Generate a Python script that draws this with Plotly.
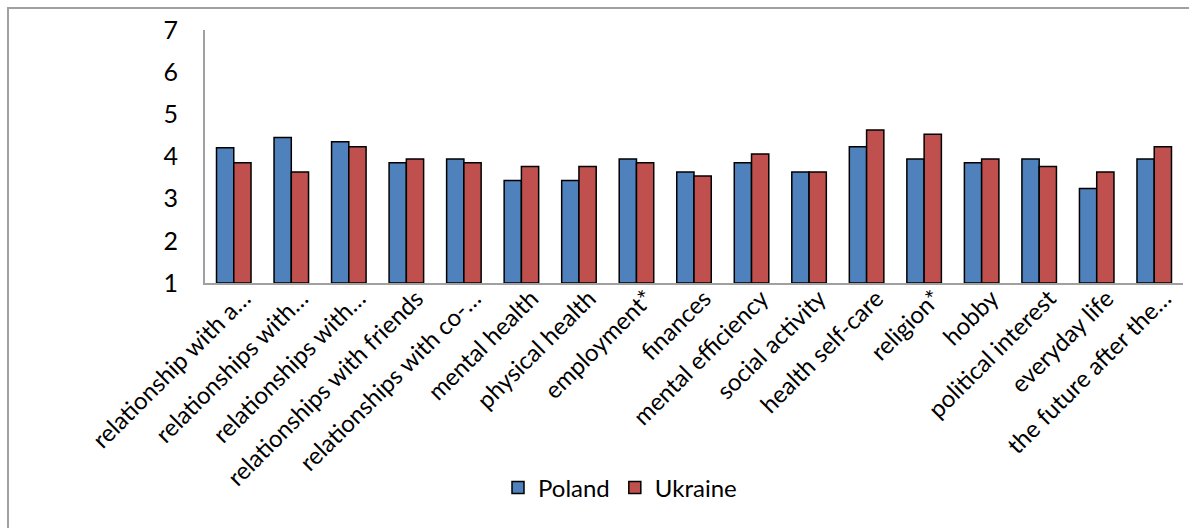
import plotly.graph_objects as go

categories = [
    "relationship with a…", "relationships with…", "relationships with…",
    "relationships with friends", "relationships with co-…", "mental health",
    "physical health", "employment*", "finances", "mental efficiency",
    "social activity", "health self-care", "religion*", "hobby",
    "political interest", "everyday life", "the future after the…",
]
poland = [4.21, 4.45, 4.35, 3.85, 3.94, 3.43, 3.43, 3.94, 3.63, 3.85,
          3.63, 4.23, 3.94, 3.85, 3.94, 3.24, 3.94]
ukraine = [3.85, 3.63, 4.23, 3.94, 3.85, 3.76, 3.76, 3.85, 3.54, 4.06,
           3.63, 4.63, 4.53, 3.94, 3.76, 3.63, 4.23]
y_ticks = [1, 2, 3, 4, 5, 6, 7]

xs = list(range(len(categories)))
FONT = "Lato, Carlito, 'Open Sans', sans-serif"

fig = go.Figure()
fig.add_trace(go.Bar(x=xs, y=[v - 1 for v in poland], base=1, name="Poland",
                     marker=dict(color="#4F81BD", line=dict(color="black", width=1.5))))
fig.add_trace(go.Bar(x=xs, y=[v - 1 for v in ukraine], base=1, name="Ukraine",
                     marker=dict(color="#C0504D", line=dict(color="black", width=1.5))))

W, H = 1189, 528
L, R, T, B = 205, 6, 30, 245
pw, ph = W - L - R, H - T - B

fig.update_layout(
    width=W, height=H,
    margin=dict(l=L, r=R, t=T, b=B),
    paper_bgcolor="white", plot_bgcolor="white",
    barmode="group", bargap=0.4, bargroupgap=0,
    font=dict(family=FONT, color="black"),
    showlegend=True,
    legend=dict(orientation="h", x=(620 - L) / pw, xanchor="center",
                y=(H - B - 488) / ph, yanchor="middle",
                font=dict(size=24, family=FONT), traceorder="normal",
                itemwidth=30),
    xaxis=dict(range=[-0.5, len(categories) - 0.5], tickmode="array",
               tickvals=xs, ticktext=categories, tickangle=-45,
               tickfont=dict(size=24, family=FONT),
               showline=True, linecolor="#A0A0A0", linewidth=2,
               showgrid=False, zeroline=False, ticks="",
               ticklabelshift=10, ticklabelstandoff=-10),
    yaxis=dict(range=[1, 7], tickmode="array", tickvals=y_ticks,
               ticktext=[str(t) for t in y_ticks],
               tickfont=dict(size=25, family=FONT),
               showline=True, linecolor="#A0A0A0", linewidth=2,
               showgrid=False, zeroline=False, ticks="",
               ticklabelstandoff=20),
    shapes=[dict(type="rect", xref="paper", yref="paper",
                 x0=(8 - L) / pw, x1=(W + 10 - L) / pw,
                 y0=(H - B - (H + 10)) / ph, y1=1 + (T - 8) / ph,
                 line=dict(color="#A0A0A0", width=2), fillcolor="rgba(0,0,0,0)",
                 layer="below")],
)

fig.write_html("out.html")
